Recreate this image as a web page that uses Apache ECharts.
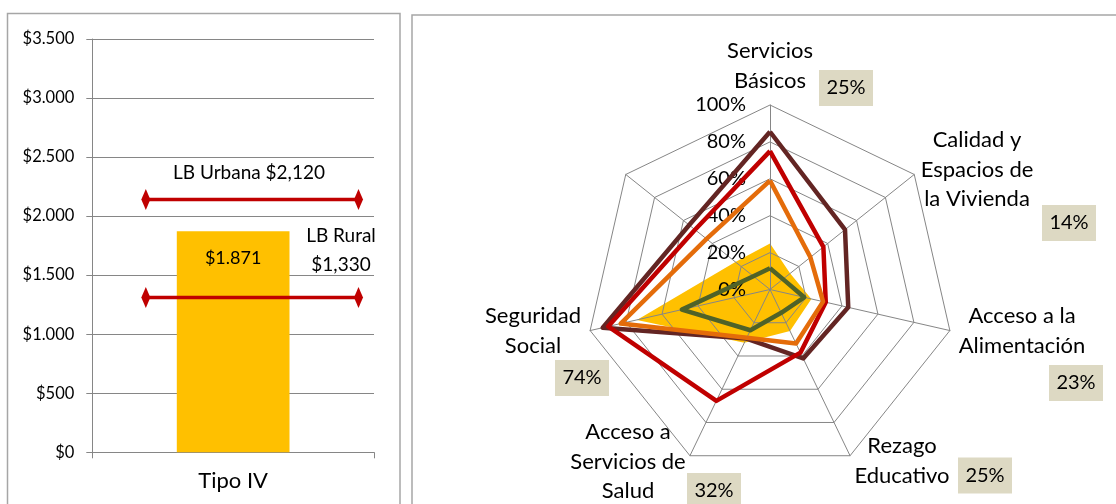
<!DOCTYPE html>
<html><head><meta charset="utf-8">
<script src="https://cdn.jsdelivr.net/npm/echarts@6/dist/echarts.min.js"></script>
<style>html,body{margin:0;padding:0;background:#fff}#c{width:1116px;height:504px}</style>
</head><body><div id="c"></div>
<script>
// ---------- Bar panel data ----------
const barCategories = ['Tipo IV'];
const barValues = [1871];
const barValueLabels = ['$1.871'];
const urbanaLineValue = 2140;
const ruralLineValue = 1310;
const urbanaLabel = 'LB Urbana $2,120';
const ruralLabel = 'LB Rural\n$1,330';

// ---------- Radar panel data ----------
const radarAxisNames = ['Servicios\nBásicos', 'Calidad y\nEspacios de\nla Vivienda', 'Acceso a la\nAlimentación', 'Rezago\nEducativo', 'Acceso a\nServicios de\nSalud', 'Seguridad\nSocial', ''];
const radarAxisPercents = ['25%', '14%', '23%', '25%', '32%', '74%'];
const seriesYellow = [25, 14, 23, 25, 32, 74, 24];
const seriesGreen  = [11.5, 9, 19, 14, 24.5, 49, 11.5];
const seriesOrange = [59, 28, 29.5, 32.5, 29, 83, 44];
const seriesRed    = [75, 37, 31, 38, 67, 90, 52];
const seriesBrown  = [85.5, 52, 43.5, 41.5, 29.5, 93, 56];

// ---------- layout / style ----------
const FONT = 'Lato';
const GRAY = '#868686';
// ECharts lays indicators counter-clockwise; the reference goes clockwise
const order = [0, 6, 5, 4, 3, 2, 1];
const reorder = a => order.map(i => a[i]);

const namePos = [[770, 66], [977, 169.5], [1022, 331], [902, 461], [628, 461.5], [533, 331]];
const boxPos = [[846, 88], [1069, 223], [1076, 383], [985, 475.5], [714, 491], [582, 378]];

const fmtMoney = v => '$' + (v >= 1000 ? Math.floor(v / 1000) + '.' + String(v % 1000).padStart(3, '0') : v);

const graphics = [
  { type: 'rect', shape: { x: 7.5, y: 13.5, width: 392.5, height: 520 }, style: { fill: 'none', stroke: '#A6A6A6', lineWidth: 1.5 }, z: 0 },
  { type: 'rect', shape: { x: 412, y: 15, width: 760, height: 520 }, style: { fill: 'none', stroke: '#A6A6A6', lineWidth: 1.5 }, z: 0 },
  { type: 'text', style: { text: urbanaLabel, x: 249, y: 172.5, textAlign: 'center', textVerticalAlign: 'middle', font: '19px ' + FONT, fill: '#000' }, z: 10 },
  { type: 'text', style: { text: ruralLabel, x: 341, y: 250.5, textAlign: 'center', textVerticalAlign: 'middle', font: '19px ' + FONT, lineHeight: 29.5, fill: '#000' }, z: 10 }
];
radarAxisNames.forEach((n, i) => {
  if (!n) return;
  graphics.push({ type: 'text', style: { text: n, x: namePos[i][0], y: namePos[i][1], textAlign: 'center', textVerticalAlign: 'middle', font: '22px ' + FONT, lineHeight: 29.5, fill: '#000' }, z: 10 });
});
radarAxisPercents.forEach((p, i) => {
  graphics.push({ type: 'rect', shape: { x: boxPos[i][0] - 27, y: boxPos[i][1] - 18, width: 54, height: 36 }, style: { fill: '#DDD9C3' }, z: 9 });
  graphics.push({ type: 'text', style: { text: p, x: boxPos[i][0], y: boxPos[i][1], textAlign: 'center', textVerticalAlign: 'middle', font: '20px ' + FONT, fill: '#000' }, z: 10 });
});

const lineSeries = (val) => ({
  type: 'line', xAxisIndex: 1, yAxisIndex: 0,
  data: [[0.19, val], [0.945, val]],
  symbol: 'diamond', symbolSize: [9, 21],
  lineStyle: { color: '#C00000', width: 3.5 },
  itemStyle: { color: '#C00000' },
  z: 5, silent: true, animation: false
});

const radarLine = (vals, color) => ({
  type: 'radar', radarIndex: 0, symbol: 'none', z: 3, animation: false,
  lineStyle: { color: color, width: 4.5 },
  data: [{ value: reorder(vals) }]
});

const option = {
  animation: false,
  backgroundColor: '#fff',
  textStyle: { fontFamily: FONT },
  grid: { left: 92.3, right: 742, top: 39, bottom: 51.7, containLabel: false },
  xAxis: [
    { type: 'category', data: barCategories, gridIndex: 0,
      axisLine: { lineStyle: { color: GRAY, width: 1 } },
      axisTick: { show: true, length: 6, lineStyle: { color: GRAY } },
      axisLabel: { color: '#000', fontSize: 22, fontFamily: FONT, margin: 18 } },
    { type: 'value', gridIndex: 0, min: 0, max: 1, show: false }
  ],
  yAxis: [
    { type: 'value', min: 0, max: 3500, interval: 500,
      axisLine: { show: true, lineStyle: { color: GRAY, width: 1 } },
      axisTick: { show: true, length: 6, lineStyle: { color: GRAY } },
      splitLine: { lineStyle: { color: GRAY, width: 1 } },
      axisLabel: { color: '#000', fontSize: 16.5, fontFamily: FONT, margin: 18, formatter: fmtMoney } }
  ],
  radar: {
    center: [770, 289.5], radius: 184.5, startAngle: 90, shape: 'polygon', splitNumber: 5, z: 2,
    indicator: order.map((i, j) => j === 0
      ? { name: '', min: 0, max: 100, axisLabel: { show: true, color: '#000', fontSize: 20, fontFamily: FONT, margin: 24, formatter: '{value}%' } }
      : { name: '', min: 0, max: 100 }),
    axisName: { show: false },
    axisLine: { lineStyle: { color: GRAY, width: 1 } },
    splitLine: { lineStyle: { color: GRAY, width: 1 } },
    splitArea: { show: false },
    axisTick: { show: false },
    axisLabel: { show: false }
  },
  series: [
    { type: 'bar', xAxisIndex: 0, yAxisIndex: 0, data: barValues, barWidth: 112.7,
      itemStyle: { color: '#FFC000' }, z: 2,
      label: { show: true, position: 'insideTop', distance: 18, color: '#000', fontSize: 18, fontFamily: FONT,
        formatter: p => barValueLabels[p.dataIndex] } },
    lineSeries(urbanaLineValue),
    lineSeries(ruralLineValue),
    { type: 'radar', radarIndex: 0, symbol: 'none', z: 1, animation: false,
      lineStyle: { width: 0 }, areaStyle: { color: '#FFC000', opacity: 1 },
      data: [{ value: reorder(seriesYellow) }] },
    radarLine(seriesBrown, '#632523'),
    radarLine(seriesRed, '#C00000'),
    radarLine(seriesOrange, '#E46C0A'),
    radarLine(seriesGreen, '#4F6228')
  ],
  graphic: graphics
};

const chart = echarts.init(document.getElementById('c'), null, { renderer: 'canvas' });
chart.setOption(option);
</script>
</body></html>
